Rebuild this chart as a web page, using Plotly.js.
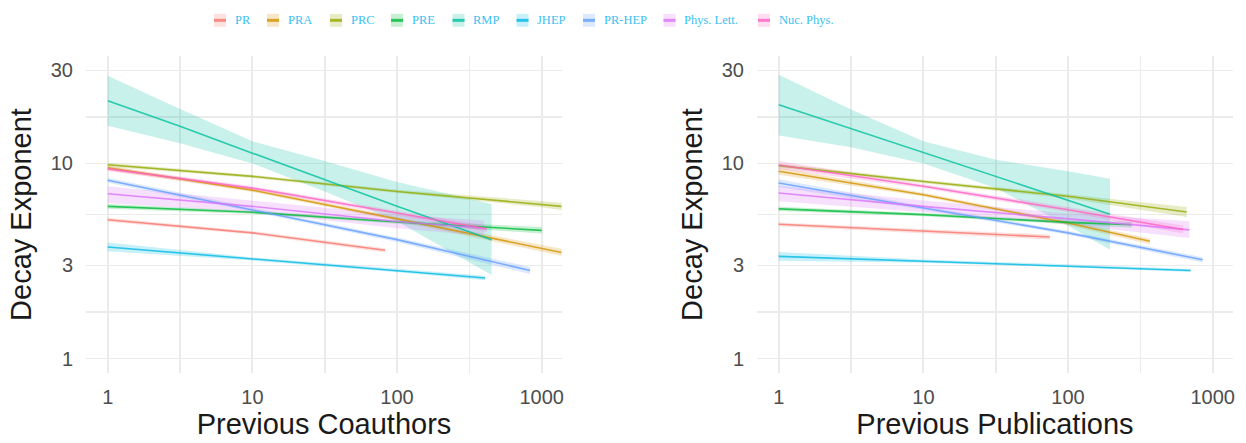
<!DOCTYPE html>
<html>
<head>
<meta charset="utf-8">
<script src="https://cdn.plot.ly/plotly-3.0.1.min.js"></script>
<style>html,body{margin:0;padding:0;background:#fff;}#chart{width:1246px;height:443px;}</style>
</head>
<body>
<div id="chart"></div>
<script>
// ---------- data ----------
const journals = ['PR', 'PRA', 'PRC', 'PRE', 'RMP', 'JHEP', 'PR-HEP', 'Phys. Lett.', 'Nuc. Phys.'];

// Left panel: Previous Coauthors
const coX = [
  [1, 10, 82.8],
  [1, 10, 100, 1370],
  [1, 10, 100, 1000, 1370],
  [1, 10, 100, 1000],
  [1, 3.16, 10, 31.6, 100, 450],
  [1, 10, 100, 406],
  [1, 10, 100, 830],
  [1, 10, 100, 400],
  [1, 10, 100, 417]
];
const coY = [
  [5.15, 4.41, 3.59],
  [9.5, 7.3, 5.2, 3.5],
  [9.86, 8.59, 7.19, 6.17, 6.03],
  [6.03, 5.62, 5.01, 4.54],
  [21.0, 15.5, 11.3, 8.26, 6.03, 4.07],
  [3.73, 3.24, 2.83, 2.59],
  [8.2, 5.79, 4.07, 2.83],
  [7.0, 6.03, 5.04, 4.66],
  [9.38, 7.48, 5.57, 4.62]
];
const coHi = [
  [5.27, 4.50, 3.68],
  [9.75, 7.45, 5.33, 3.65],
  [10.1, 8.75, 7.33, 6.38, 6.30],
  [6.2, 5.73, 5.12, 4.72],
  [28.2, 19.0, 13.0, 10.3, 8.04, 6.19],
  [3.94, 3.30, 2.89, 2.66],
  [8.45, 5.92, 4.18, 2.95],
  [7.64, 6.46, 5.46, 5.1],
  [9.65, 7.65, 5.72, 4.8]
];
const coLo = [
  [5.03, 4.32, 3.50],
  [9.25, 7.15, 5.07, 3.36],
  [9.63, 8.43, 7.05, 5.97, 5.77],
  [5.86, 5.51, 4.90, 4.37],
  [15.6, 12.7, 10.0, 7.19, 5.05, 2.68],
  [3.55, 3.18, 2.77, 2.52],
  [7.96, 5.66, 3.96, 2.71],
  [6.28, 5.63, 4.65, 4.25],
  [9.12, 7.31, 5.42, 4.45]
];

// Right panel: Previous Publications
const pubX = [
  [1, 74.8],
  [1, 10, 100, 368],
  [1, 10, 100, 660],
  [1, 10, 100, 275],
  [1, 3.16, 10, 31.6, 100, 195],
  [1, 10, 100, 703],
  [1, 10, 100, 851],
  [1, 10, 100, 689],
  [1, 10, 100, 625]
];
const pubY = [
  [4.88, 4.20],
  [9.12, 6.92, 4.95, 3.99],
  [9.75, 8.09, 6.79, 5.64],
  [5.85, 5.47, 4.99, 4.85],
  [20.0, 15.1, 11.35, 8.55, 6.49, 5.50],
  [3.34, 3.16, 2.99, 2.83],
  [7.94, 5.92, 4.41, 3.21],
  [7.06, 6.03, 5.20, 4.57],
  [9.82, 7.64, 5.79, 4.59]
];
const pubHi = [
  [4.99, 4.32],
  [9.5, 7.08, 5.08, 4.13],
  [10.0, 8.25, 6.96, 5.98],
  [6.0, 5.58, 5.09, 5.02],
  [28.5, 18.9, 13.0, 10.45, 9.12, 8.34],
  [3.52, 3.22, 3.04, 2.88],
  [8.31, 6.05, 4.51, 3.31],
  [7.69, 6.46, 5.55, 5.05],
  [10.3, 7.82, 5.95, 4.81]
];
const pubLo = [
  [4.77, 4.08],
  [8.75, 6.77, 4.82, 3.85],
  [9.5, 7.93, 6.62, 5.32],
  [5.7, 5.36, 4.89, 4.69],
  [13.9, 12.1, 10.0, 7.48, 4.79, 3.61],
  [3.17, 3.10, 2.94, 2.78],
  [7.58, 5.79, 4.31, 3.11],
  [6.40, 5.63, 4.87, 4.15],
  [9.38, 7.46, 5.63, 4.38]
];

const xTickVals = [1, 3.162, 10, 31.62, 100, 316.2, 1000];
const xTickText = ['1', '', '10', '', '100', '', '1000'];
const yTickVals = [1, 1.732, 3, 5.477, 10, 17.32, 30];
const yTickText = ['1', '', '3', '', '10', '', '30'];

// ---------- styles ----------
const colors = ['#F8766D', '#D39200', '#93AA00', '#00BA38', '#00C19F', '#00B9E3', '#619CFF', '#DB72FB', '#FF61C3'];
function rgba(hex, a) {
  const n = parseInt(hex.slice(1), 16);
  return 'rgba(' + ((n >> 16) & 255) + ',' + ((n >> 8) & 255) + ',' + (n & 255) + ',' + a + ')';
}

const W = 1246, H = 443;
const M = {l: 86, r: 13, t: 56.2, b: 69.6};
const PW = W - M.l - M.r, PH = H - M.t - M.b;
const px2x = px => (px - M.l) / PW;
const py2y = py => (H - M.b - py) / PH;

const traces = [];
const panels = [
  {X: coX, Y: coY, Lo: coLo, Hi: coHi, xa: 'x', ya: 'y'},
  {X: pubX, Y: pubY, Lo: pubLo, Hi: pubHi, xa: 'x2', ya: 'y2'}
];
panels.forEach(p => {
  journals.forEach((j, i) => {
    const xs = p.X[i];
    traces.push({
      type: 'scatter', mode: 'lines', name: j,
      x: xs.concat(xs.slice().reverse()),
      y: p.Hi[i].concat(p.Lo[i].slice().reverse()),
      fill: 'toself', fillcolor: rgba(colors[i], 0.22),
      line: {width: 0, color: rgba(colors[i], 0)},
      hoverinfo: 'skip', showlegend: false,
      xaxis: p.xa, yaxis: p.ya
    });
  });
  journals.forEach((j, i) => {
    traces.push({
      type: 'scatter', mode: 'lines', name: j,
      x: p.X[i], y: p.Y[i],
      line: {width: 1.6, color: rgba(colors[i], 0.8)},
      showlegend: false,
      xaxis: p.xa, yaxis: p.ya
    });
  });
});

// manual ggplot-like legend
const keyLeft = [214, 267, 330, 391, 452.5, 516.5, 583, 663.5, 758];
const keyW = 12, keyTop = 14, keyBot = 27, keyMid = 20.5;
const shapes = [];
const annotations = [];
journals.forEach((j, i) => {
  shapes.push({type: 'rect', xref: 'paper', yref: 'paper',
    x0: px2x(keyLeft[i]), x1: px2x(keyLeft[i] + keyW),
    y0: py2y(keyBot), y1: py2y(keyTop),
    fillcolor: rgba(colors[i], 0.22), line: {width: 0}});
  shapes.push({type: 'line', xref: 'paper', yref: 'paper',
    x0: px2x(keyLeft[i]), x1: px2x(keyLeft[i] + keyW),
    y0: py2y(keyMid), y1: py2y(keyMid),
    line: {color: rgba(colors[i], 0.8), width: 3}});
  annotations.push({xref: 'paper', yref: 'paper', showarrow: false,
    x: px2x(keyLeft[i] + 18.5), y: py2y(keyMid), xanchor: 'left', yanchor: 'middle',
    text: j, font: {family: 'Liberation Serif', size: 12.5, color: '#3cbff2'}});
});

const tickFont = {family: 'Liberation Sans', size: 20, color: '#4d4d4d'};
const titleFont = {family: 'Liberation Sans', size: 29, color: '#1a1a1a'};
function xAxis(domain, title, anchor) {
  return {type: 'log', domain: domain, anchor: anchor, range: [-0.15, 3.14],
    tickmode: 'array', tickvals: xTickVals, ticktext: xTickText,
    showgrid: true, gridcolor: '#ebebeb', gridwidth: 1.8, zeroline: false, showline: false,
    ticks: '', ticklabelstandoff: 10, tickfont: tickFont,
    title: {text: title, font: titleFont, standoff: 6}};
}
function yAxis(anchor) {
  return {type: 'log', domain: [0, 1], anchor: anchor, range: [-0.074, 1.551],
    tickmode: 'array', tickvals: yTickVals, ticktext: yTickText,
    showgrid: true, gridcolor: '#ebebeb', gridwidth: 1.8, zeroline: false, showline: false,
    ticks: '', ticklabelstandoff: 12, tickfont: tickFont,
    title: {text: 'Decay Exponent', font: titleFont, standoff: 10}};
}

const layout = {
  width: W, height: H,
  margin: M,
  paper_bgcolor: '#ffffff', plot_bgcolor: '#ffffff',
  showlegend: false,
  xaxis: xAxis([0, 476 / PW], 'Previous Coauthors', 'y'),
  yaxis: yAxis('x'),
  xaxis2: xAxis([(757 - M.l) / PW, 1], 'Previous Publications', 'y2'),
  yaxis2: yAxis('x2'),
  shapes: shapes,
  annotations: annotations
};

Plotly.newPlot('chart', traces, layout, {staticPlot: true, displayModeBar: false});
</script>
</body>
</html>
